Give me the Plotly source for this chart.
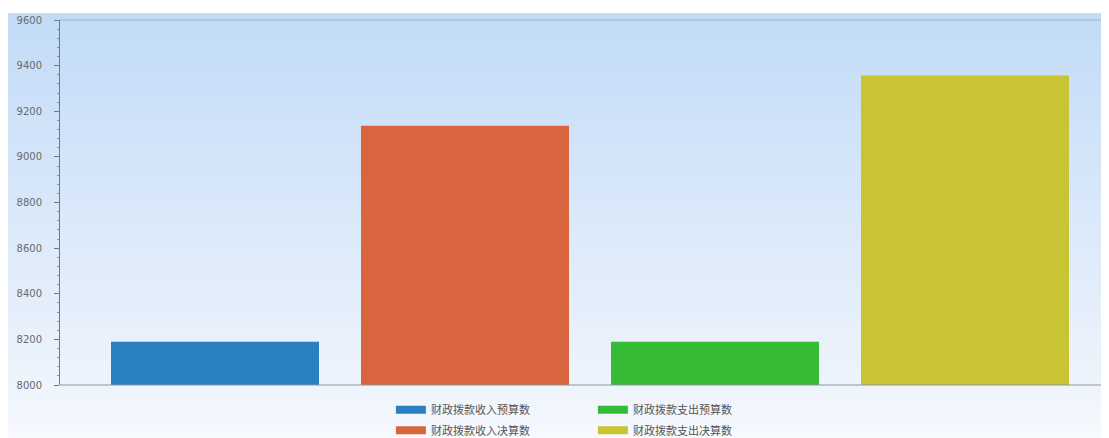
import base64
import plotly.graph_objects as go

categories = [""]
series_names = ["财政拨款收入预算数", "财政拨款收入决算数", "财政拨款支出预算数", "财政拨款支出决算数"]
series_values = [8190, 9136, 8190, 9357]
bar_colors = ["#2b80c2", "#d8653e", "#36bb36", "#c8c434"]
legend_rows = ["legend", "legend2", "legend", "legend2"]
legend_rank = [1, 1, 2, 2]
y_ticks = [8000, 8200, 8400, 8600, 8800, 9000, 9200, 9400, 9600]

svg = ('<svg xmlns="http://www.w3.org/2000/svg" width="100" height="100" preserveAspectRatio="none">'
       '<defs><linearGradient id="g" x1="0" y1="0" x2="0" y2="1">'
       '<stop offset="0" stop-color="#c2dbf7"/><stop offset="0.85" stop-color="#eef4fc"/>'
       '<stop offset="1" stop-color="#f9fbfe"/></linearGradient></defs>'
       '<rect width="100" height="100" fill="url(#g)"/></svg>')
bg_src = "data:image/svg+xml;base64," + base64.b64encode(svg.encode()).decode()

fig = go.Figure()
for name, val, col in zip(series_names, series_values, bar_colors):
    fig.add_trace(go.Bar(x=categories, y=[val], name=name, marker=dict(color=col, line=dict(width=0)),
                         showlegend=False, hoverinfo="y+name"))
for name, col, lg, rk in zip(series_names, bar_colors, legend_rows, legend_rank):
    fig.add_trace(go.Scatter(x=[None], y=[None], mode="lines", name=name,
                             line=dict(color=col, width=8), legend=lg, legendrank=rk))

legend_common = dict(orientation="h", xanchor="center", yanchor="middle", x=0.508,
                     entrywidth=157, entrywidthmode="pixels", itemwidth=30,
                     bgcolor="rgba(0,0,0,0)",
                     font=dict(family="Noto Sans CJK SC", size=11, color="#555555"))

fig.update_layout(
    width=1101, height=430,
    margin=dict(l=52, r=0, t=12, b=53, autoexpand=False),
    paper_bgcolor="white", plot_bgcolor="rgba(0,0,0,0)",
    barmode="group", bargap=0.0, bargroupgap=0.168,
    showlegend=True,
    legend=dict(legend_common, y=-0.068),
    legend2=dict(legend_common, y=-0.124),
    xaxis=dict(type="category", range=[-0.53, 0.519], showticklabels=False, ticks="",
               showgrid=False, zeroline=False, showline=False, fixedrange=True),
    yaxis=dict(range=[8000, 9600], tickvals=y_ticks, ticktext=[str(v) for v in y_ticks],
               showgrid=False, zeroline=False, showline=True, linecolor="#6f7882", linewidth=1,
               ticks="outside", ticklen=5, tickcolor="#6f7882", ticklabelstandoff=10,
               minor=dict(dtick=40, ticks="outside", ticklen=2, tickcolor="#8a94a0"),
               tickfont=dict(family="DejaVu Sans", size=10, color="#6a6a6a")),
    images=[dict(source=bg_src, xref="paper", yref="paper", x=-0.05, y=1.019,
                 sizex=1.06, sizey=1.2, xanchor="left", yanchor="top",
                 sizing="stretch", layer="below")],
    shapes=[
        dict(type="line", xref="paper", yref="paper", x0=0, x1=1, y0=1, y1=1,
             line=dict(color="#9fb4cb", width=1)),
        dict(type="line", xref="paper", yref="paper", x0=0, x1=1, y0=0, y1=0,
             line=dict(color="#8f959c", width=1)),
    ],
)

fig.write_html("out.html")
